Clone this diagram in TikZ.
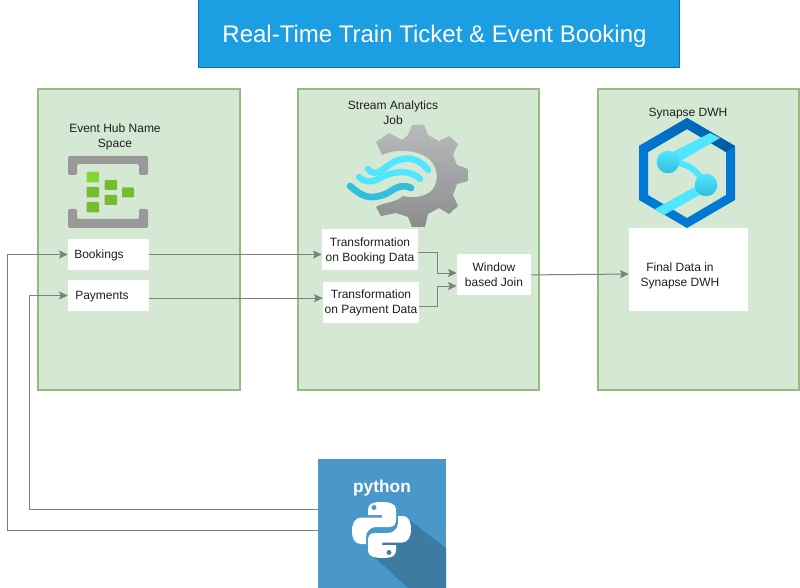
\documentclass[tikz,border=0pt]{standalone}
\usepackage{fontspec}
\setmainfont{Liberation Sans}
\usetikzlibrary{arrows.meta}
\tikzset{
  panel/.style={draw=panelline,fill=panelfill,line width=1.5pt,inner sep=0pt},
  whitebox/.style={fill=white,draw=none,inner sep=0pt,align=center,font=\fontsize{9}{11.25}\selectfont,text=labeltext},
  lbl/.style={inner sep=0pt,align=center,font=\fontsize{9}{11.25}\selectfont,text=labeltext},
  conn/.style={draw=connline,line width=0.75pt,-{Stealth[length=6.5pt,width=6pt,inset=1.2pt]}},
}
\definecolor{panelline}{HTML}{93BE7A}
\definecolor{panelfill}{HTML}{D5E8D4}
\definecolor{labeltext}{HTML}{1F1F1F}
\definecolor{connline}{HTML}{7F7F7F}
\definecolor{titlefill}{HTML}{1C9EE2}
\definecolor{titleline}{HTML}{0F6FB5}
\definecolor{hubgrey}{HTML}{999999}
\definecolor{hubgreen}{HTML}{76BC2D}
\definecolor{hubgreenb}{HTML}{86D633}
\definecolor{cyanl}{HTML}{50E6FF}
\definecolor{cyand}{HTML}{32BEDD}
\definecolor{azure}{HTML}{0078D4}
\definecolor{azured}{HTML}{005BA1}
\definecolor{pyblue}{HTML}{4A97C9}
\definecolor{pyshadow}{HTML}{3E7BA3}
\definecolor{geartop}{HTML}{B8BABC}
\definecolor{gearbot}{HTML}{8C8C8C}
\begin{document}
\begin{tikzpicture}[x=0.75pt,y=-0.75pt]
\useasboundingbox (0,0) rectangle (800,588);
\fill[white] (0,0) rectangle (800,588);
% title
\node[draw=titleline,fill=titlefill,line width=0.75pt,minimum width=360.75pt,minimum height=51pt,inner sep=0pt] (title) at (438.5,34) {};
\node[inner sep=0pt,text=white,font=\fontsize{18}{22}\selectfont] (titlet) at (434.5,36) {Real-Time Train Ticket \& Event Booking};
% panels
\node[panel,minimum width=151.5pt,minimum height=225.75pt] (hub) at (139,239.5) {};
\node[panel,minimum width=180.75pt,minimum height=225.75pt] (stream) at (418.5,239.5) {};
\node[panel,minimum width=150.75pt,minimum height=225.75pt] (syn) at (698.5,239.5) {};
% labels
\node[lbl] (hubl) at (115,136.5) {Event Hub Name\\Space};
\node[lbl] (streaml) at (393,112.5) {Stream Analytics\\Job};
\node[lbl] (synl) at (688,113.5) {Synapse DWH};
% Event hub icon
\fill[hubgrey,rounded corners=1pt] (68,175) -- (68,156) -- (148,156) -- (148,175) -- (139,175) -- (139,164) -- (77,164) -- (77,175) -- cycle;
\fill[hubgrey,rounded corners=1pt] (68,209) -- (68,228) -- (148,228) -- (148,209) -- (139,209) -- (139,219) -- (77,219) -- (77,209) -- cycle;
\fill[hubgreenb,rounded corners=0.7pt] (86.5,172) rectangle (99,182.5);
\fill[hubgreen,rounded corners=0.7pt] (86.5,187) rectangle (99,197.5);
\fill[hubgreen,rounded corners=0.7pt] (86.5,202) rectangle (99,212.5);
\fill[hubgreen,rounded corners=0.7pt] (104.5,180) rectangle (117,190);
\fill[hubgreen,rounded corners=0.7pt] (104.5,195) rectangle (117,205);
\fill[hubgreen,rounded corners=0.7pt] (122,187.5) rectangle (134,197.5);
% gear
\shade[top color=geartop,bottom color=gearbot]
 (412,125) -- (424,125) -- (428,135) -- (439,141) -- (449,136) -- (458,144) -- (453,155)
 -- (457,165) -- (468,169) -- (468,181) -- (457,184) -- (453,195) -- (458,206) -- (449,214)
 -- (439,208) -- (428,214) -- (425,227) -- (412,227) -- (408,217) -- (396,213) -- (381,216)
 -- (376,207) .. controls (380,203) and (396,203) .. (403,196)
 .. controls (410,198) and (422,198) .. (430,192)
 .. controls (438,186) and (440,170) .. (430,160)
 .. controls (420,150) and (396,148) .. (382,155)
 -- (376,142) -- (389,133) -- (402,140) -- (408,135) -- cycle;
\draw[cyanl,line width=4.8pt,line cap=round] (368,169) .. controls (372,174) and (376,174) .. (382,170) .. controls (390,164) and (396,160) .. (403,159) .. controls (413,157) and (422,162) .. (428,170);
\draw[cyanl,line width=4.8pt,line cap=round] (359,177) .. controls (363,182) and (372,183) .. (380,178) .. controls (386,175) and (391,173) .. (397,172.5) .. controls (406,171) and (415,174) .. (420,179);
\draw[cyand,line width=5pt,line cap=round] (350,186) .. controls (358,193) and (364,197) .. (372,197) .. controls (380,197) and (386,194) .. (391,191) .. controls (397,187) and (403,184) .. (411,188);
% synapse
\fill[azure,even odd rule] (687,118) -- (735,146) -- (735,200) -- (687,228) -- (639,200) -- (639,146) -- cycle
  (687,129) -- (726,152) -- (726,195) -- (687,218) -- (648,195) -- (648,152) -- cycle;
\shade[left color=azure,right color=azured] (687,118) -- (735,146) -- (726,152) -- (687,129) -- (648,152) -- (639,146) -- cycle;
\fill[cyanl] (663,157) -- (710,133) -- (720,138) -- (677,163) -- cycle;
\fill[cyanl] (655,209) -- (700,184) -- (710,189) -- (664,215) -- cycle;
\draw[cyanl,line width=4.5pt] (672,162) .. controls (688,163) and (700,172) .. (705,186);
\shade[top color=cyanl,bottom color=cyand] (668,162) circle (11.3);
\shade[top color=cyanl,bottom color=cyand] (706,185) circle (11.3);
% white boxes
\node[whitebox,minimum width=60.75pt,minimum height=23.25pt] (book) at (108.5,254.5) {};
\node[lbl] (bookt) at (99,255) {Bookings};
\node[whitebox,minimum width=60.75pt,minimum height=23.25pt] (pay) at (108.5,295.5) {};
\node[lbl] (payt) at (102,297) {Payments};
\node[whitebox,minimum width=72pt,minimum height=30.75pt] (tb) at (370,249.5) {};
\node[lbl] (tbt) at (370,250.5) {Transformation\\on Booking Data};
\node[whitebox,minimum width=72pt,minimum height=30.75pt] (tp) at (371,302.5) {Transformation\\on Payment Data};
\node[whitebox,minimum width=55.5pt,minimum height=30.75pt] (win) at (494,274.5) {Window\\based Join};
\node[whitebox,minimum width=89.25pt,minimum height=62.25pt] (final) at (688.5,269.5) {};
\node[lbl] (finall) at (680,276) {Final Data in\\Synapse DWH};
% python
\node[fill=pyblue,inner sep=0pt,minimum width=96pt,minimum height=96.75pt] (py) at (382,523.5) {};
\fill[pyshadow] (408,519) -- (446,548) -- (446,588) -- (408,588) -- (372,555) -- cycle;
\node[inner sep=0pt,text=white,font=\bfseries\fontsize{13}{14}\selectfont] (pyl) at (382,488) {python};
\begin{scope}[even odd rule]
\fill[white] (381,502) .. controls (371,502) and (368,505) .. (368,510) -- (368,515) -- (382,515) -- (382,517.5) -- (362,517.5)
 .. controls (355,517.5) and (352,523) .. (352,531) .. controls (352,539) and (355,544) .. (361,544) -- (366,544) -- (366,537)
 .. controls (366,531) and (371,527) .. (376,527) -- (389,527) .. controls (394,527) and (396,524) .. (396,520) -- (396,509)
 .. controls (396,504) and (390,502) .. (381,502) -- cycle (374,507.5) circle (2.6);
\fill[white] (383,558) .. controls (393,558) and (396,555) .. (396,550) -- (396,545) -- (382,545) -- (382,542.5) -- (402,542.5)
 .. controls (408,542.5) and (411,537) .. (411,529) .. controls (411,521) and (408,516) .. (403,516) -- (398,516) -- (398,523)
 .. controls (398,529) and (393,533) .. (388,533) -- (375,533) .. controls (370,533) and (368,536) .. (368,540) -- (368,551)
 .. controls (368,556) and (374,558) .. (383,558) -- cycle (389,552.5) circle (2.6);
\end{scope}
% connectors
\coordinate (bendb) at (437,273);
\coordinate (bendp) at (437,286);
\draw[conn] (book.east) -- (book.east -| tb.west);
\draw[conn] ([yshift=-2pt]pay.east) -- ([yshift=-2pt]pay.east -| tp.west);
\draw[conn] ([yshift=-2.4pt]tb.east) -- ([yshift=-2.4pt]tb.east -| bendb) -- (bendb) -- (bendb -| win.west);
\draw[conn] ([yshift=-2.9pt]tp.east) -- ([yshift=-2.9pt]tp.east -| bendp) -- (bendp) -- (bendp -| win.west);
\draw[conn] ([yshift=-0.3pt]win.east) -- ([yshift=-3.4pt]final.west);
\draw[conn] ([yshift=10.5pt]py.west) -- ++(-288,0) |- (pay.west);
\draw[conn] ([yshift=-5.25pt]py.west) -- ++(-310,0) |- (book.west);
\end{tikzpicture}
\end{document}
